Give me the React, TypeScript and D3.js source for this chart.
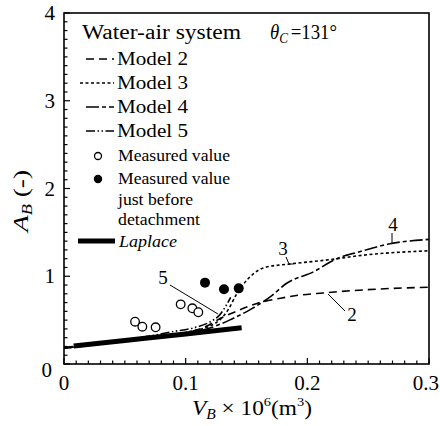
import { useMemo } from 'react';
import * as d3 from 'd3';

type Pt = [number, number];

// Measured bubble shape factors (open circles)
const measured: Pt[] = [
  [0.0584, 0.482], [0.0644, 0.425], [0.0753, 0.418],
  [0.0959, 0.68], [0.1055, 0.635], [0.1104, 0.59],
];
// Measured just before detachment (filled circles)
const measuredDetach: Pt[] = [
  [0.1159, 0.927], [0.1315, 0.851], [0.1436, 0.862],
];

const laplace: Pt[] = [[0.008, 0.205], [0.05, 0.268], [0.1, 0.343], [0.146, 0.414]];

const model2: Pt[] = [
  [0, 0.18], [0.05, 0.26], [0.1, 0.35], [0.117, 0.43], [0.13, 0.53], [0.14, 0.59],
  [0.161, 0.7], [0.178, 0.75], [0.191, 0.78], [0.213, 0.81], [0.26, 0.855], [0.3, 0.875],
];
const model3: Pt[] = [
  [0, 0.18], [0.05, 0.26], [0.1, 0.36], [0.125, 0.47], [0.135, 0.62], [0.142, 0.8],
  [0.147, 0.9], [0.155, 1.02], [0.165, 1.1], [0.186, 1.14], [0.219, 1.19], [0.246, 1.24],
  [0.3, 1.29],
];
const model4: Pt[] = [
  [0, 0.18], [0.05, 0.26], [0.1, 0.35], [0.12, 0.41], [0.136, 0.5], [0.153, 0.62],
  [0.17, 0.77], [0.183, 0.92], [0.205, 1.05], [0.224, 1.2], [0.243, 1.28], [0.268, 1.37],
  [0.3, 1.42],
];
const model5: Pt[] = [
  [0, 0.19], [0.05, 0.27], [0.09, 0.37], [0.106, 0.41], [0.12, 0.48], [0.128, 0.56],
  [0.133, 0.66], [0.137, 0.76],
];

const xTicks = [0, 0.1, 0.2, 0.3];
const yTicks = [0, 1, 2, 3, 4];

const models = [
  { name: 'Model 2', data: model2, dash: '8 5' },
  { name: 'Model 3', data: model3, dash: '3 2.5' },
  { name: 'Model 4', data: model4, dash: '13 3 4 3' },
  { name: 'Model 5', data: model5, dash: '9 2.5 1.5 2.5 1.5 2.5' },
];

const serif = 'Liberation Serif, DejaVu Serif, serif';

export default function App() {
  const W = 440;
  const H = 426;
  const x = useMemo(() => d3.scaleLinear().domain([0, 0.3]).range([64, 429]), []);
  const y = useMemo(() => d3.scaleLinear().domain([0, 4]).range([364, 13]), []);
  const line = d3.line<Pt>().x(d => x(d[0])).y(d => y(d[1])).curve(d3.curveMonotoneX);

  const xMinor = d3.range(0, 0.3001, 0.01);
  const yMinor = d3.range(0, 4.001, 0.1);
  const stretch = { lengthAdjust: 'spacingAndGlyphs' } as any;

  return (
    <svg width={W} height={H}
      style={{ position: 'absolute', left: 0, top: 0, background: '#fff' }}>
      <defs>
        <clipPath id="plot">
          <rect x={64} y={13} width={365} height={351} />
        </clipPath>
      </defs>

      {/* frame */}
      <rect x={64} y={13} width={365} height={351} fill="none" stroke="#000" strokeWidth={1.6} />

      {/* ticks */}
      {xMinor.map((v, i) => (
        <line key={'xm' + i} x1={x(v)} x2={x(v)} y1={364} y2={364 - (i % 10 === 0 ? 6 : 3.5)}
          stroke="#000" strokeWidth={1.2} />
      ))}
      {yMinor.map((v, i) => (
        <line key={'ym' + i} x1={64} x2={64 + (i % 10 === 0 ? 6 : 3.5)} y1={y(v)} y2={y(v)}
          stroke="#000" strokeWidth={1.2} />
      ))}

      <g fontFamily={serif}>
        {/* tick labels; the last one is kept inside the window */}
        {xTicks.map((v, i) => {
          const last = i === xTicks.length - 1;
          return (
            <text key={'xt' + v} x={last ? W - 1 : x(v)} y={390} textAnchor={last ? 'end' : 'middle'}
              fontSize={21}>{v === 0 ? '0' : v.toFixed(1)}</text>
          );
        })}
        {yTicks.map(v => (
          <text key={'yt' + v} x={v === 0 ? 52 : 55} y={y(v) + (v === 0 ? 13 : 7)} textAnchor="end" fontSize={21}>{v}</text>
        ))}

        {/* axis labels */}
        <text x={192} y={415} fontSize={21} textLength={120} {...stretch}>
          <tspan fontStyle="italic">V</tspan>
          <tspan fontStyle="italic" fontSize={14} dy={4}>B</tspan>
          <tspan dy={-4}> × 10</tspan>
          <tspan fontSize={13} dy={-9}>6</tspan>
          <tspan dy={9}>(m</tspan>
          <tspan fontSize={13} dy={-9}>3</tspan>
          <tspan dy={9}>)</tspan>
        </text>
        <text transform="translate(28,232) rotate(-90)" fontSize={21} textLength={62} {...stretch}>
          <tspan fontStyle="italic">A</tspan>
          <tspan fontStyle="italic" fontSize={14} dy={4}>B</tspan>
          <tspan dy={-4}> (-)</tspan>
        </text>

        {/* curve annotations */}
        <g fontSize={19}>
          <text x={163} y={284} textAnchor="middle">5</text>
          <text x={283} y={255} textAnchor="middle">3</text>
          <text x={393} y={231} textAnchor="middle">4</text>
          <text x={352} y={321} textAnchor="middle">2</text>
        </g>

        {/* legend */}
        <text x={82} y={39} fontSize={20} textLength={159} {...stretch}>Water-air system</text>
        <text x={270} y={39} fontSize={20} textLength={67} {...stretch}>
          <tspan fontStyle="italic">θ</tspan>
          <tspan fontStyle="italic" fontSize={14} dy={4}>C</tspan>
          <tspan dy={-4} dx={3}>=131°</tspan>
        </text>
        {models.map((m, i) => (
          <text key={'lt' + m.name} x={117} y={65 + i * 24} fontSize={18.5} textLength={71} {...stretch}>{m.name}</text>
        ))}
        <text x={118} y={161} fontSize={17.5} textLength={112} {...stretch}>Measured value</text>
        <text x={118} y={184} fontSize={17.5} textLength={112} {...stretch}>Measured value</text>
        <text x={118} y={205} fontSize={17.5} textLength={75} {...stretch}>just before</text>
        <text x={118} y={225} fontSize={17.5} textLength={82} {...stretch}>detachment</text>
        <text x={119} y={247} fontSize={17.5} fontStyle="italic" textLength={58} {...stretch}>Laplace</text>
      </g>

      {/* curves */}
      <g clipPath="url(#plot)" fill="none" stroke="#000">
        {models.map(m => (
          <path key={m.name} d={line(m.data) ?? ''} strokeWidth={1.6} strokeDasharray={m.dash} />
        ))}
        <path d={line(laplace) ?? ''} strokeWidth={5} />
      </g>

      {/* measured points */}
      {measured.map((d, i) => (
        <circle key={'m' + i} cx={x(d[0])} cy={y(d[1])} r={4.3} fill="#fff" stroke="#000" strokeWidth={1.3} />
      ))}
      {measuredDetach.map((d, i) => (
        <circle key={'md' + i} cx={x(d[0])} cy={y(d[1])} r={5} fill="#000" />
      ))}

      <g stroke="#000" strokeWidth={1}>
        <line x1={170} y1={285} x2={218} y2={314} />
        <polyline points="286,257 289,264 293,264" fill="none" />
        <line x1={392} y1={233} x2={392} y2={244} />
        <line x1={345} y1={311} x2={328} y2={294} />
      </g>

      {models.map((m, i) => (
        <line key={'lg' + m.name} x1={i === 1 ? 80 : 86} x2={114} y1={59 + i * 24} y2={59 + i * 24}
          stroke="#000" strokeWidth={1.4} strokeDasharray={m.dash} />
      ))}
      <circle cx={98} cy={156} r={3.5} fill="#fff" stroke="#000" strokeWidth={1.3} />
      <circle cx={98} cy={179} r={4.2} fill="#000" />
      <line x1={78} x2={115} y1={241} y2={241} stroke="#000" strokeWidth={5} />
    </svg>
  );
}
